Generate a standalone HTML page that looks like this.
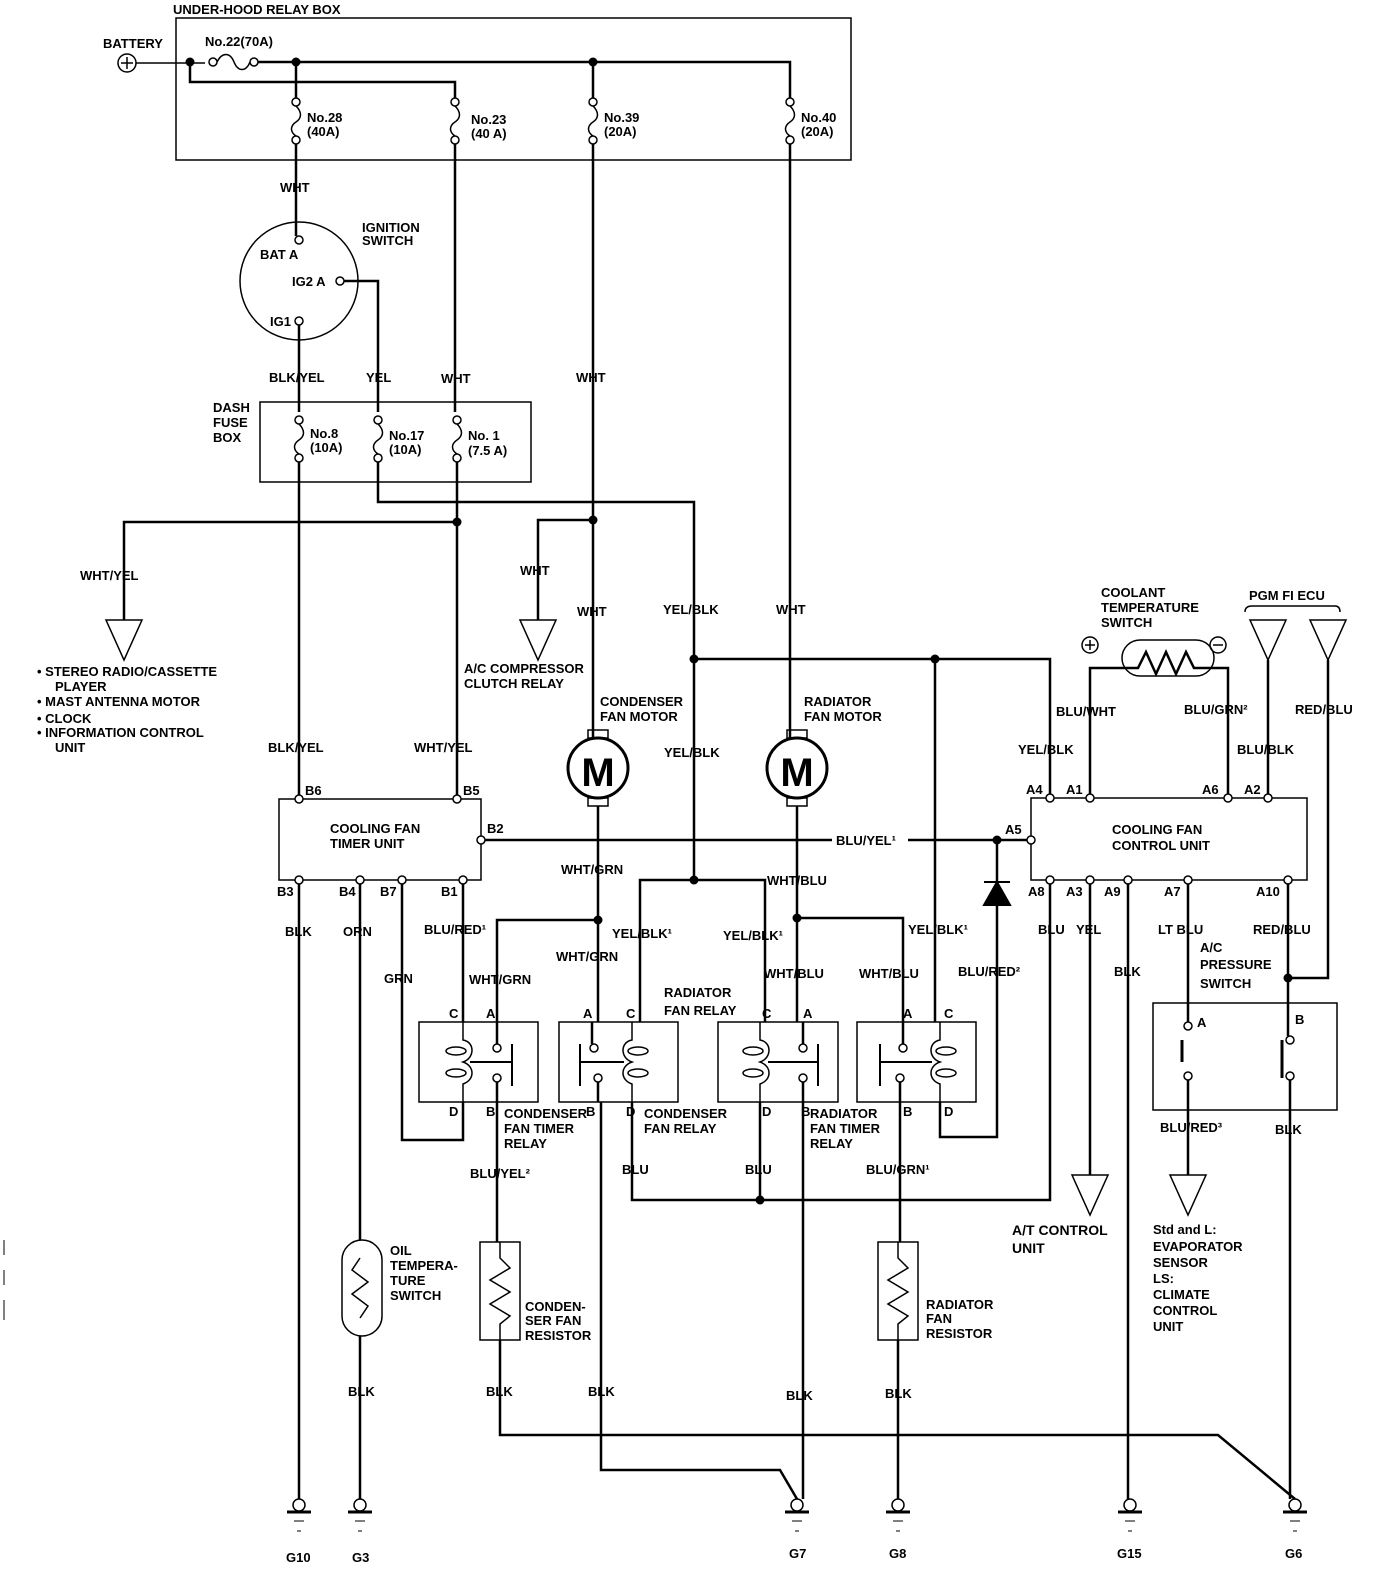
<!DOCTYPE html>
<html><head><meta charset="utf-8"><style>
html,body{margin:0;padding:0;background:#fff}
svg{display:block}
text{font-family:"Liberation Sans",sans-serif;font-size:13px;font-weight:bold;fill:#000}
.w{fill:none;stroke:#000;stroke-width:2.5}
.t{fill:none;stroke:#000;stroke-width:1.5}
.c{fill:#fff;stroke:#000;stroke-width:1.5}
</style></head><body>
<svg width="1392" height="1590" viewBox="0 0 1392 1590" xmlns="http://www.w3.org/2000/svg">
<defs>
<g id="fv"><circle cx="0" cy="0" r="4" class="c"/><path d="M0,4 C6,10 6,16 0,20 C-6,24 -6,30 0,34" class="t"/><circle cx="0" cy="38" r="4" class="c"/></g>
<g id="gnd"><circle cx="0" cy="0" r="6" class="c"/><line x1="-12" y1="7" x2="12" y2="7" stroke="#000" stroke-width="3"/><line x1="-5" y1="16" x2="5" y2="16" stroke="#000" stroke-width="1"/><line x1="-2" y1="26" x2="2" y2="26" stroke="#000" stroke-width="1"/></g>
<g id="tri"><path d="M-18,0 L18,0 L0,40 Z" class="t"/></g>
<g id="dot"><circle r="4.5" fill="#000"/></g>
</defs>

<!-- Under-hood relay box -->
<text x="173" y="14">UNDER-HOOD RELAY BOX</text>
<rect x="176" y="18" width="675" height="142" class="t"/>
<text x="103" y="48">BATTERY</text>
<circle cx="127" cy="63" r="9" class="t"/><path d="M121,63 H133 M127,57 V69" class="t"/>
<path d="M136,63 H205" class="t"/>
<text x="205" y="46">No.22(70A)</text>
<circle cx="213" cy="62" r="4" class="c"/><path d="M217,62 C222,52 230,52 234,62 C238,72 246,72 250,62" class="t"/><circle cx="254" cy="62" r="4" class="c"/>
<path d="M258,62 H790 V98" class="w"/>
<path d="M190,62 V82 H455 V98" class="w"/>
<use href="#dot" x="190" y="62"/><use href="#dot" x="296" y="62"/><use href="#dot" x="593" y="62"/>
<path d="M296,62 V98 M593,62 V98" class="w"/>
<use href="#fv" x="296" y="102"/><use href="#fv" x="455" y="102"/><use href="#fv" x="593" y="102"/><use href="#fv" x="790" y="102"/>
<text x="307" y="122">No.28</text><text x="307" y="136">(40A)</text>
<text x="471" y="124">No.23</text><text x="471" y="138">(40 A)</text>
<text x="604" y="122">No.39</text><text x="604" y="136">(20A)</text>
<text x="801" y="122">No.40</text><text x="801" y="136">(20A)</text>

<!-- Ignition switch -->
<path d="M296,144 V236" class="w"/>
<text x="280" y="192">WHT</text>
<circle cx="299" cy="281" r="59" class="t"/>
<circle cx="299" cy="240" r="4" class="c"/><text x="260" y="259">BAT A</text>
<circle cx="340" cy="281" r="4" class="c"/><text x="292" y="286">IG2 A</text>
<circle cx="299" cy="321" r="4" class="c"/><text x="270" y="326">IG1</text>
<text x="362" y="232">IGNITION</text><text x="362" y="245">SWITCH</text>
<path d="M344,281 H378 V412" class="w"/>
<path d="M299,325 V412" class="w"/>
<path d="M455,144 V412" class="w"/>
<text x="269" y="382">BLK/YEL</text><text x="366" y="382">YEL</text><text x="441" y="383">WHT</text>

<!-- Dash fuse box -->
<rect x="260" y="402" width="271" height="80" class="t"/>
<text x="213" y="412">DASH</text><text x="213" y="427">FUSE</text><text x="213" y="442">BOX</text>
<use href="#fv" x="299" y="420"/><use href="#fv" x="378" y="420"/><use href="#fv" x="457" y="420"/>
<text x="310" y="438">No.8</text><text x="310" y="452">(10A)</text>
<text x="389" y="440">No.17</text><text x="389" y="454">(10A)</text>
<text x="468" y="440">No. 1</text><text x="468" y="455">(7.5 A)</text>

<path d="M378,462 V502 H694 V880" class="w"/>
<path d="M457,462 V797" class="w"/>
<path d="M299,462 V797" class="w"/>
<use href="#dot" x="457" y="522"/>
<path d="M457,522 H124 V620" class="w"/>
<use href="#tri" x="124" y="620"/>
<text x="80" y="580">WHT/YEL</text>
<text x="37" y="676">• STEREO RADIO/CASSETTE</text>
<text x="55" y="691">PLAYER</text>
<text x="37" y="706">• MAST ANTENNA MOTOR</text>
<text x="37" y="723">• CLOCK</text>
<text x="37" y="737">• INFORMATION CONTROL</text>
<text x="55" y="752">UNIT</text>

<!-- WHT to compressor relay -->
<path d="M593,144 V738" class="w"/>
<use href="#dot" x="593" y="520"/>
<path d="M593,520 H538 V620" class="w"/>
<use href="#tri" x="538" y="620"/>
<text x="520" y="575">WHT</text>
<text x="576" y="382">WHT</text>
<text x="577" y="616">WHT</text>
<text x="464" y="673">A/C COMPRESSOR</text><text x="464" y="688">CLUTCH RELAY</text>
<text x="663" y="614">YEL/BLK</text>
<text x="664" y="757">YEL/BLK</text>
<text x="600" y="706">CONDENSER</text><text x="600" y="721">FAN MOTOR</text>

<path d="M790,144 V738" class="w"/>
<text x="776" y="614">WHT</text>
<text x="804" y="706">RADIATOR</text><text x="804" y="721">FAN MOTOR</text>

<!-- YEL/BLK horizontal -->
<use href="#dot" x="694" y="659"/><use href="#dot" x="935" y="659"/>
<path d="M694,659 H1050 V797" class="w"/>
<path d="M935,659 V1022" class="w"/>

<!-- Motors -->
<g>
<rect x="588" y="730" width="20" height="8" class="t"/><rect x="588" y="798" width="20" height="8" class="t"/>
<circle cx="598" cy="768" r="30" stroke="#000" stroke-width="3" fill="#fff"/>
<text x="598" y="786" text-anchor="middle" style="font-size:40px;font-weight:bold">M</text>
<rect x="787" y="730" width="20" height="8" class="t"/><rect x="787" y="798" width="20" height="8" class="t"/>
<circle cx="797" cy="768" r="30" stroke="#000" stroke-width="3" fill="#fff"/>
<text x="797" y="786" text-anchor="middle" style="font-size:40px;font-weight:bold">M</text>
</g>
<path d="M598,806 V1022" class="w"/>
<path d="M797,806 V1022" class="w"/>
<text x="561" y="874">WHT/GRN</text>
<text x="767" y="885">WHT/BLU</text>

<!-- Timer unit -->
<rect x="279" y="799" width="202" height="81" class="t"/>
<text x="330" y="833">COOLING FAN</text><text x="330" y="848">TIMER UNIT</text>
<circle cx="299" cy="799" r="4" class="c"/><text x="305" y="795">B6</text>
<circle cx="457" cy="799" r="4" class="c"/><text x="463" y="795">B5</text>
<text x="268" y="752">BLK/YEL</text><text x="414" y="752">WHT/YEL</text>
<circle cx="481" cy="840" r="4" class="c"/><text x="487" y="833">B2</text>
<circle cx="299" cy="880" r="4" class="c"/><text x="277" y="896">B3</text>
<circle cx="360" cy="880" r="4" class="c"/><text x="339" y="896">B4</text>
<circle cx="402" cy="880" r="4" class="c"/><text x="380" y="896">B7</text>
<circle cx="463" cy="880" r="4" class="c"/><text x="441" y="896">B1</text>

<!-- Control unit -->
<rect x="1031" y="798" width="276" height="82" class="t"/>
<text x="1112" y="834">COOLING FAN</text><text x="1112" y="850">CONTROL UNIT</text>
<path d="M485,840 H1031" class="w"/>
<rect x="832" y="830" width="76" height="18" fill="#fff"/>
<text x="836" y="845">BLU/YEL¹</text>
<circle cx="1031" cy="840" r="4" class="c"/><text x="1005" y="834">A5</text>
<use href="#dot" x="997" y="840"/>
<path d="M997,840 V1137 H940 V1102" class="w"/>
<path d="M984,905 L1010,905 L997,882 Z M984,882 H1010" fill="#000" stroke="#000" stroke-width="2"/>
<text x="958" y="976">BLU/RED²</text>

<circle cx="1050" cy="798" r="4" class="c"/><text x="1026" y="794">A4</text>
<circle cx="1090" cy="798" r="4" class="c"/><text x="1066" y="794">A1</text>
<circle cx="1228" cy="798" r="4" class="c"/><text x="1202" y="794">A6</text>
<circle cx="1268" cy="798" r="4" class="c"/><text x="1244" y="794">A2</text>
<circle cx="1050" cy="880" r="4" class="c"/><text x="1028" y="896">A8</text>
<circle cx="1090" cy="880" r="4" class="c"/><text x="1066" y="896">A3</text>
<circle cx="1128" cy="880" r="4" class="c"/><text x="1104" y="896">A9</text>
<circle cx="1188" cy="880" r="4" class="c"/><text x="1164" y="896">A7</text>
<circle cx="1288" cy="880" r="4" class="c"/><text x="1256" y="896">A10</text>

<text x="1018" y="754">YEL/BLK</text>
<!-- coolant temp switch -->
<text x="1101" y="597">COOLANT</text><text x="1101" y="612">TEMPERATURE</text><text x="1101" y="627">SWITCH</text>
<circle cx="1090" cy="645" r="8" class="t"/><path d="M1085,645 H1095 M1090,640 V650" class="t"/>
<circle cx="1218" cy="645" r="8" class="t"/><path d="M1213,645 H1223" class="t"/>
<rect x="1122" y="640" width="92" height="36" rx="18" class="t"/>
<path d="M1090,794 V668 H1138 L1146,652 L1156,674 L1166,652 L1176,674 L1186,652 L1194,668 H1228 V794" class="w"/>
<text x="1056" y="716">BLU/WHT</text><text x="1184" y="714">BLU/GRN²</text>
<text x="1249" y="600">PGM FI  ECU</text>
<path d="M1245,612 Q1245,606 1252,606 H1335 Q1340,606 1340,612" class="t"/>
<use href="#tri" x="1268" y="620"/><use href="#tri" x="1328" y="620"/>
<path d="M1268,660 V794" class="w"/>
<path d="M1328,660 V978 H1288" class="w"/>
<text x="1237" y="754">BLU/BLK</text><text x="1295" y="714">RED/BLU</text>

<!-- wires below control unit -->
<path d="M1050,884 V1200 H632 V1102" class="w"/>
<use href="#dot" x="760" y="1200"/>
<path d="M1090,884 V1175" class="w"/><use href="#tri" x="1090" y="1175"/>
<text x="1076" y="934">YEL</text><text x="1038" y="934">BLU</text>
<path d="M1128,884 V1499" class="w"/><text x="1114" y="976">BLK</text>
<path d="M1188,884 V1022" class="w"/><text x="1158" y="934">LT BLU</text>
<path d="M1288,884 V1036" class="w"/><use href="#dot" x="1288" y="978"/>
<text x="1253" y="934">RED/BLU</text>
<text x="1200" y="952">A/C</text><text x="1200" y="969">PRESSURE</text><text x="1200" y="988">SWITCH</text>
<rect x="1153" y="1003" width="184" height="107" class="t"/>
<text x="1197" y="1027">A</text><text x="1295" y="1024">B</text>
<circle cx="1188" cy="1026" r="4" class="c"/><circle cx="1188" cy="1076" r="4" class="c"/>
<path d="M1182,1040 V1062" stroke="#000" stroke-width="3"/>
<circle cx="1290" cy="1040" r="4" class="c"/><circle cx="1290" cy="1076" r="4" class="c"/>
<path d="M1282,1040 V1078" stroke="#000" stroke-width="3"/>
<path d="M1188,1080 V1175" class="w"/><use href="#tri" x="1188" y="1175"/>
<path d="M1290,1080 V1499" class="w"/>
<text x="1160" y="1132">BLU/RED³</text><text x="1275" y="1134">BLK</text>
<text x="1012" y="1235" style="font-size:14px">A/T CONTROL</text><text x="1012" y="1253" style="font-size:14px">UNIT</text>
<text x="1153" y="1234">Std and L:</text><text x="1153" y="1251">EVAPORATOR</text><text x="1153" y="1267">SENSOR</text>
<text x="1153" y="1283">LS:</text><text x="1153" y="1299">CLIMATE</text><text x="1153" y="1315">CONTROL</text><text x="1153" y="1331">UNIT</text>

<!-- connections to relays -->
<use href="#dot" x="694" y="880"/>
<path d="M640,1022 V880 H765 V1022" class="w"/>
<use href="#dot" x="598" y="920"/>
<path d="M598,920 H497 V1022" class="w"/>
<use href="#dot" x="797" y="918"/>
<path d="M797,918 H903 V1022" class="w"/>
<path d="M463,884 V1022" class="w"/>
<path d="M402,884 V1140 H463 V1102" class="w"/>
<text x="424" y="934">BLU/RED¹</text><text x="612" y="938">YEL/BLK¹</text><text x="723" y="940">YEL/BLK¹</text>
<text x="908" y="934">YEL/BLK¹</text>
<text x="556" y="961">WHT/GRN</text><text x="469" y="984">WHT/GRN</text>
<text x="764" y="978">WHT/BLU</text><text x="859" y="978">WHT/BLU</text>
<text x="384" y="983">GRN</text>
<text x="664" y="997">RADIATOR</text><text x="664" y="1015">FAN RELAY</text>

<!-- relays -->
<g id="r1">
<rect x="419" y="1022" width="119" height="80" class="t"/>
<text x="449" y="1018">C</text><text x="486" y="1018">A</text><text x="449" y="1116">D</text><text x="486" y="1116">B</text>
<path d="M463,1022 V1040 C475,1042 475,1058 463,1062 C475,1066 475,1080 463,1084 V1102" class="t" stroke-width="2"/>
<ellipse cx="456" cy="1051" rx="10" ry="4" class="t"/><ellipse cx="456" cy="1073" rx="10" ry="4" class="t"/>
<path d="M497,1022 V1044 M497,1080 V1102" class="w"/>
<circle cx="497" cy="1048" r="4" class="c"/><circle cx="497" cy="1078" r="4" class="c"/>
<path d="M470,1062 H512 M512,1044 V1086" stroke="#000" stroke-width="2" fill="none"/>
</g>
<g>
<rect x="559" y="1022" width="119" height="80" class="t"/>
<text x="583" y="1018">A</text><text x="626" y="1018">C</text><text x="586" y="1116">B</text><text x="626" y="1116">D</text>
<path d="M632,1022 V1040 C620,1042 620,1058 632,1062 C620,1066 620,1080 632,1084 V1102" class="t" stroke-width="2"/>
<ellipse cx="638" cy="1051" rx="10" ry="4" class="t"/><ellipse cx="638" cy="1073" rx="10" ry="4" class="t"/>
<path d="M592,1022 V1044 M598,1080 V1102" class="w"/>
<circle cx="594" cy="1048" r="4" class="c"/><circle cx="598" cy="1078" r="4" class="c"/>
<path d="M624,1062 H580 M580,1044 V1086" stroke="#000" stroke-width="2" fill="none"/>
</g>
<g>
<rect x="718" y="1022" width="120" height="80" class="t"/>
<text x="762" y="1018">C</text><text x="803" y="1018">A</text><text x="762" y="1116">D</text><text x="801" y="1116">B</text>
<path d="M760,1022 V1040 C772,1042 772,1058 760,1062 C772,1066 772,1080 760,1084 V1102" class="t" stroke-width="2"/>
<ellipse cx="753" cy="1051" rx="10" ry="4" class="t"/><ellipse cx="753" cy="1073" rx="10" ry="4" class="t"/>
<path d="M803,1022 V1044 M803,1080 V1102" class="w"/>
<circle cx="803" cy="1048" r="4" class="c"/><circle cx="803" cy="1078" r="4" class="c"/>
<path d="M768,1062 H818 M818,1044 V1086" stroke="#000" stroke-width="2" fill="none"/>
</g>
<g>
<rect x="857" y="1022" width="119" height="80" class="t"/>
<text x="903" y="1018">A</text><text x="944" y="1018">C</text><text x="903" y="1116">B</text><text x="944" y="1116">D</text>
<path d="M940,1022 V1040 C928,1042 928,1058 940,1062 C928,1066 928,1080 940,1084 V1102" class="t" stroke-width="2"/>
<ellipse cx="946" cy="1051" rx="10" ry="4" class="t"/><ellipse cx="946" cy="1073" rx="10" ry="4" class="t"/>
<path d="M903,1022 V1044 M900,1080 V1102" class="w"/>
<circle cx="903" cy="1048" r="4" class="c"/><circle cx="900" cy="1078" r="4" class="c"/>
<path d="M932,1062 H880 M880,1044 V1086" stroke="#000" stroke-width="2" fill="none"/>
</g>
<text x="504" y="1118">CONDENSER</text><text x="504" y="1133">FAN TIMER</text><text x="504" y="1148">RELAY</text>
<text x="644" y="1118">CONDENSER</text><text x="644" y="1133">FAN RELAY</text>
<text x="810" y="1118">RADIATOR</text><text x="810" y="1133">FAN TIMER</text><text x="810" y="1148">RELAY</text>

<path d="M760,1102 V1200" class="w"/>
<text x="622" y="1174">BLU</text><text x="745" y="1174">BLU</text>

<!-- resistors and lower -->
<path d="M497,1102 V1242" class="w"/>
<text x="470" y="1178">BLU/YEL²</text>
<rect x="480" y="1242" width="40" height="98" class="t"/>
<path d="M500,1242 V1258 L510,1268 L490,1280 L510,1292 L490,1304 L510,1316 L500,1324 V1340" class="t"/>
<text x="525" y="1311">CONDEN-</text><text x="525" y="1325">SER FAN</text><text x="525" y="1340">RESISTOR</text>
<path d="M500,1340 V1435 H1218 L1295,1499" class="w"/>
<text x="486" y="1396">BLK</text>

<path d="M900,1102 V1242" class="w"/>
<text x="866" y="1174">BLU/GRN¹</text>
<rect x="878" y="1242" width="40" height="98" class="t"/>
<path d="M898,1242 V1258 L908,1268 L888,1280 L908,1292 L888,1304 L908,1316 L898,1324 V1340" class="t"/>
<text x="926" y="1309">RADIATOR</text><text x="926" y="1323">FAN</text><text x="926" y="1338">RESISTOR</text>
<path d="M898,1340 V1499" class="w"/>
<text x="885" y="1398">BLK</text>

<path d="M601,1102 V1470 H780 L797,1499" class="w"/>
<text x="588" y="1396">BLK</text>
<path d="M803,1102 V1499" class="w"/>
<text x="786" y="1400">BLK</text>

<path d="M299,884 V1499" class="w"/>
<text x="285" y="936">BLK</text>
<path d="M360,884 V1240" class="w"/>
<text x="343" y="936">ORN</text>
<rect x="342" y="1240" width="40" height="96" rx="20" class="t"/>
<path d="M360,1258 L352,1270 L368,1282 L352,1294 L368,1306 L360,1318" class="t"/>
<text x="390" y="1255">OIL</text><text x="390" y="1270">TEMPERA-</text><text x="390" y="1285">TURE</text><text x="390" y="1300">SWITCH</text>
<path d="M360,1336 V1499" class="w"/>
<text x="348" y="1396">BLK</text>

<!-- grounds -->
<use href="#gnd" x="299" y="1505"/><use href="#gnd" x="360" y="1505"/>
<use href="#gnd" x="797" y="1505"/><use href="#gnd" x="898" y="1505"/>
<use href="#gnd" x="1130" y="1505"/><use href="#gnd" x="1295" y="1505"/>
<text x="286" y="1562">G10</text><text x="352" y="1562">G3</text>
<text x="789" y="1558">G7</text><text x="889" y="1558">G8</text>
<text x="1117" y="1558">G15</text><text x="1285" y="1558">G6</text>
<path d="M4,1240 V1255 M4,1270 V1285 M4,1300 V1320" stroke="#000" stroke-width="1"/>
</svg>
</body></html>
